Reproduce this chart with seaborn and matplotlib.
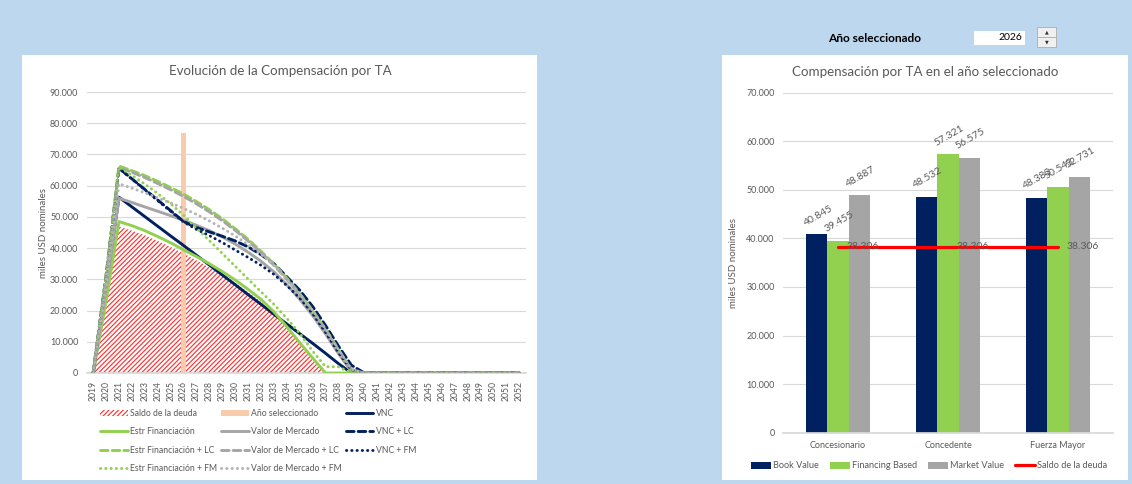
import pandas as pd
import matplotlib
matplotlib.use("Agg")
import matplotlib.pyplot as plt
import seaborn as sns
from matplotlib.patches import Rectangle, Patch
from matplotlib.lines import Line2D
from matplotlib.ticker import FuncFormatter, MultipleLocator

# ---- data: left chart, compensation by year (miles USD nominales) ----
years = list(range(2019, 2053))


def pad(vals):
    # every series stays at zero after it matures, up to 2052
    return vals + [0] * (len(years) - len(vals))


saldo_deuda = pad([0, 22000, 46900, 45600, 44100, 42300, 40400, 38306, 36100, 33800,
                   31400, 28800, 25900, 22800, 19000, 14400, 9400, 4000, 0])
vnc = pad([0, 27000, 56300, 53200, 50100, 47000, 43900, 40845, 37700, 34600, 31400,
           28300, 25100, 22000, 18800, 15700, 12600, 9500, 6300, 3000, 0])
estr_fin = pad([0, 23000, 48500, 47200, 45600, 43700, 41700, 39455, 37300, 35000,
                32500, 29800, 26800, 23600, 19600, 14800, 9700, 4800, 0])
valor_mercado = pad([0, 27000, 56000, 54600, 53200, 51800, 50400, 48887, 47300, 45600,
                     43600, 41300, 38700, 35800, 32400, 28300, 23600, 18400, 12500, 6200, 500, 0])
vnc_lc = pad([0, 31000, 65600, 62200, 58800, 55400, 52000, 48532, 46600, 45200, 43800,
              42300, 40400, 37900, 35000, 30800, 26500, 21300, 15200, 8600, 2500, 0])
estr_fin_lc = pad([0, 31000, 66300, 64800, 63200, 61400, 59400, 57321, 54900, 52300,
                   49400, 46200, 42800, 39000, 34900, 30400, 25400, 20000, 14000, 7500, 1000, 0])
valor_mercado_lc = pad([0, 31000, 65800, 64300, 62600, 60700, 58700, 56575, 54200, 51600,
                        48800, 45700, 42300, 38600, 34500, 30000, 25000, 19600, 13600, 7200, 1000, 0])
vnc_fm = pad([0, 31000, 65500, 62100, 58700, 55200, 51800, 48383, 46000, 44000, 41800,
              39400, 37000, 34500, 31600, 28000, 24000, 19000, 13000, 6500, 1000, 0])
estr_fin_fm = pad([0, 31000, 66000, 63300, 60500, 57500, 54200, 50543, 46400, 42400,
                   38300, 34200, 30100, 26000, 22000, 17500, 12700, 7000, 2000, 2000, 0])
valor_mercado_fm = pad([0, 28000, 60600, 59200, 57700, 56100, 54500, 52731, 50800, 48700,
                        46400, 43900, 41100, 38000, 34500, 30000, 25200, 20000, 14000, 7500, 1200, 0])

sel_year = 2026
sel_bar_height = 77000

# ---- data: right chart, selected year ----
categories = ["Concesionario", "Concedente", "Fuerza Mayor"]
book_value = [40845, 48532, 48383]
financing_based = [39455, 57321, 50543]
market_value = [48887, 56575, 52731]
saldo_sel = [38306, 38306, 38306]

NAVY, GREEN, GRAY, GRAY_DOT = "#002060", "#92D050", "#A5A5A5", "#B4B4B4"
ORANGE, RED, TXT, GRID = "#F8CBAD", "#FF3333", "#595959", "#D9D9D9"
BG = "#BDD7EE"
HATCH = "/" * 7

sns.set_theme(style="white")
plt.rcParams["font.family"] = ["Lato", "DejaVu Sans"]
plt.rcParams["hatch.linewidth"] = 0.85

W, H = 1132, 484
fig = plt.figure(figsize=(W / 100, H / 100), dpi=100)
fig.patch.set_facecolor(BG)


def fbox(x0, y0, x1, y1):
    # pixel box (top-left origin) -> figure fraction rect
    return [x0 / W, 1 - y1 / H, (x1 - x0) / W, (y1 - y0) / H]


def add_rect(x0, y0, x1, y1, fc, ec="none", lw=0.0, z=-1):
    r = Rectangle((x0 / W, 1 - y1 / H), (x1 - x0) / W, (y1 - y0) / H,
                  transform=fig.transFigure, facecolor=fc, edgecolor=ec, lw=lw, zorder=z)
    fig.add_artist(r)


def miles(v, pos=None):
    return f"{v:,.0f}".replace(",", ".")


# white chart panels
add_rect(22, 55, 537, 480, "white")
add_rect(722, 55, 1128, 480, "white")

# ---------------- left chart ----------------
ax = fig.add_axes(fbox(86.7, 92, 525.7, 373))
ax.set_facecolor("none")

ax.fill_between(years, 0, saldo_deuda, facecolor="white", edgecolor=RED,
                hatch=HATCH, linewidth=0, zorder=1)
ax.bar([sel_year], [sel_bar_height], width=0.32, color=ORANGE,
       edgecolor="none", linewidth=0, zorder=2)

dash = (0, (2.6, 1.4))
dot = (0, (0.1, 1.7))
series = [
    ("VNC", vnc, NAVY, "-"),
    ("Estr Financiación", estr_fin, GREEN, "-"),
    ("Valor de Mercado", valor_mercado, GRAY, "-"),
    ("VNC + LC", vnc_lc, NAVY, dash),
    ("Estr Financiación + LC", estr_fin_lc, GREEN, dash),
    ("Valor de Mercado + LC", valor_mercado_lc, GRAY, dash),
    ("VNC + FM", vnc_fm, NAVY, dot),
    ("Estr Financiación + FM", estr_fin_fm, GREEN, dot),
    ("Valor de Mercado + FM", valor_mercado_fm, GRAY_DOT, dot),
]
for i, (lab, vals, col, ls) in enumerate(series):
    sns.lineplot(x=years, y=vals, ax=ax, color=col, linestyle=ls, lw=2.1,
                 dash_capstyle="round", legend=False, zorder=3 + i)

ax.set_xlim(2018.5, 2052.5)
ax.set_ylim(0, 90000)
ax.set_xticks(years)
ax.set_xticklabels([str(y) for y in years], rotation=90, fontsize=6.2, color=TXT)
ax.yaxis.set_major_locator(MultipleLocator(10000))
ax.yaxis.set_major_formatter(FuncFormatter(miles))
ax.tick_params(axis="y", labelsize=6.5, colors=TXT, length=0, pad=6)
ax.tick_params(axis="x", length=0, pad=6)
ax.grid(axis="y", color=GRID, lw=0.8)
ax.set_axisbelow(True)
for s in ["top", "right", "left"]:
    ax.spines[s].set_visible(False)
ax.spines["bottom"].set_color(GRID)
ax.set_xlabel("")
ax.set_ylabel("miles USD nominales", fontsize=7, color=TXT)
ax.yaxis.set_label_coords(-0.088, 0.5)

fig.text(280 / W, 1 - 71 / H, "Evolución de la Compensación por TA",
         ha="center", va="center", fontsize=9.6, color=TXT)

left_handles = {
    "Saldo de la deuda": Patch(facecolor="white", edgecolor=RED, hatch=HATCH, lw=0),
    "Año seleccionado": Patch(facecolor=ORANGE, edgecolor="none", lw=0),
}
for lab, vals, col, ls in series:
    left_handles[lab] = Line2D([], [], color=col, linestyle=ls, lw=2.1, dash_capstyle="round")
# legend fills column by column: reorder to read row by row as in the reference
order = ["Saldo de la deuda", "Estr Financiación", "Estr Financiación + LC", "Estr Financiación + FM",
         "Año seleccionado", "Valor de Mercado", "Valor de Mercado + LC", "Valor de Mercado + FM",
         "VNC", "VNC + LC", "VNC + FM"]
leg1 = fig.legend([left_handles[k] for k in order], order, loc="upper left",
                  bbox_to_anchor=(100 / W, 1 - 409 / H), ncol=3, frameon=False, fontsize=6.2,
                  handlelength=3.2, handletextpad=0.25, columnspacing=0.5,
                  labelspacing=1.08, borderpad=0, borderaxespad=0)
for t in leg1.get_texts():
    t.set_color(TXT)

# ---------------- right chart ----------------
df = pd.DataFrame({
    "Categoria": categories * 3,
    "Serie": ["Book Value"] * 3 + ["Financing Based"] * 3 + ["Market Value"] * 3,
    "Valor": book_value + financing_based + market_value,
})

ax2 = fig.add_axes(fbox(783, 92.7, 1113, 432.7))
ax2.set_facecolor("none")
sns.barplot(data=df, x="Categoria", y="Valor", hue="Serie",
            palette=[NAVY, GREEN, GRAY], saturation=1, width=0.58,
            linewidth=0, edgecolor="none", ax=ax2, legend=False, zorder=2)

for cont in ax2.containers:
    for bar in cont:
        h = bar.get_height()
        ax2.annotate(miles(h), (bar.get_x() + bar.get_width() / 2, h), xytext=(1, 5),
                     textcoords="offset points", ha="center", va="bottom",
                     rotation=30, fontsize=7.5, color=TXT)

xpos = list(range(len(categories)))
sns.lineplot(x=xpos, y=saldo_sel, ax=ax2, color="#FF0000", lw=2.3, legend=False, zorder=4)
for i, v in enumerate(saldo_sel):
    ax2.annotate(miles(v), (i, v), xytext=(6, 0), textcoords="offset points",
                 ha="left", va="center", fontsize=7.5, color=TXT, zorder=5)

ax2.set_xlim(-0.5, 2.5)
ax2.set_ylim(0, 70000)
ax2.yaxis.set_major_locator(MultipleLocator(10000))
ax2.yaxis.set_major_formatter(FuncFormatter(miles))
ax2.set_xticks(xpos)
ax2.set_xticklabels(categories, fontsize=6.5, color=TXT)
ax2.tick_params(axis="y", labelsize=6.5, colors=TXT, length=0, pad=6)
ax2.tick_params(axis="x", length=0, pad=6)
ax2.grid(axis="y", color=GRID, lw=0.8)
ax2.set_axisbelow(True)
for s in ["top", "right", "left"]:
    ax2.spines[s].set_visible(False)
ax2.spines["bottom"].set_color(GRID)
ax2.set_xlabel("")
ax2.set_ylabel("miles USD nominales", fontsize=7, color=TXT)
ax2.yaxis.set_label_coords(-0.136, 0.5)

fig.text(925 / W, 1 - 72 / H, "Compensación por TA en el año seleccionado",
         ha="center", va="center", fontsize=9.6, color=TXT)

right_handles = [Patch(facecolor=NAVY, lw=0), Patch(facecolor=GREEN, lw=0),
                 Patch(facecolor=GRAY, lw=0), Line2D([], [], color="#FF0000", lw=2.3)]
right_labels = ["Book Value", "Financing Based", "Market Value", "Saldo de la deuda"]
leg2 = fig.legend(right_handles, right_labels, loc="center left",
                  bbox_to_anchor=(751 / W, 1 - 466 / H), ncol=4, frameon=False,
                  fontsize=6.6, handlelength=2.2, handleheight=0.8, handletextpad=0.2,
                  columnspacing=1.2, borderpad=0, borderaxespad=0)
for t in leg2.get_texts():
    t.set_color(TXT)

# ---------------- year selector widget ----------------
fig.text(874.5 / W, 1 - 38 / H, "Año seleccionado", ha="center", va="center",
         fontsize=8.6, fontweight="bold", color="black")
add_rect(974, 31, 1025, 45, "white", z=1)
fig.text(1022 / W, 1 - 38 / H, str(sel_year), ha="right", va="center",
         fontsize=7.5, color="black")
add_rect(1037, 27, 1056, 37, "#F0F0F0", ec="#ADADAD", lw=0.6, z=1)
add_rect(1037, 37, 1056, 47, "#F0F0F0", ec="#ADADAD", lw=0.6, z=1)
fig.text(1046.5 / W, 1 - 32 / H, "▲", ha="center", va="center", fontsize=3.5,
         family=["DejaVu Sans"], color="#333333")
fig.text(1046.5 / W, 1 - 42 / H, "▼", ha="center", va="center", fontsize=3.5,
         family=["DejaVu Sans"], color="#333333")

fig.savefig("out.png", dpi=100, facecolor=fig.get_facecolor())
